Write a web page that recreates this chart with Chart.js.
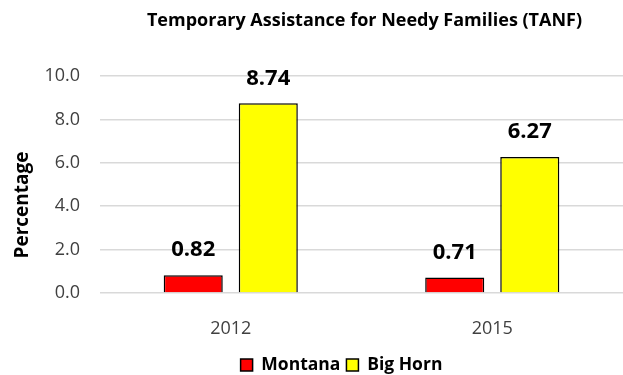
<!DOCTYPE html>
<html>
<head>
<meta charset="utf-8">
<script src="https://cdn.jsdelivr.net/npm/chart.js@4/dist/chart.umd.min.js"></script>
<style>
  html, body { margin: 0; padding: 0; background: #fff; }
  #wrap { width: 623px; height: 375px; }
</style>
</head>
<body>
<div id="wrap"><canvas id="tanf"></canvas></div>
<script>
const chartTitle = 'Temporary Assistance for Needy Families (TANF)';
const yTitle = 'Percentage';
const years = ['2012', '2015'];
const montana = [0.82, 0.71];
const bigHorn = [8.74, 6.27];

const FONT = "'Open Sans', sans-serif";
const PLOT_BOTTOM = 293;
const LEGEND_MID = 365;

// value labels over bars, chart title over the plot, rotated y title
const textPlugin = {
  id: 'textPlugin',
  afterLayout(chart) {
    const lg = chart.legend;
    const opts = lg.options.labels;
    // Excel puts the legend a bit right of the canvas centre
    lg.left += 60;
    const top = LEGEND_MID - opts.padding - opts.font.size / 2;
    const d = top - lg.top;
    lg.top += d;
    lg.bottom += d;
  },
  afterDatasetsDraw(chart) {
    const ctx = chart.ctx;
    const area = chart.chartArea;
    ctx.save();
    ctx.fillStyle = '#000';
    ctx.textAlign = 'center';
    ctx.textBaseline = 'middle';
    ctx.font = 'bold 22px ' + FONT;
    chart.data.datasets.forEach((ds, i) => {
      chart.getDatasetMeta(i).data.forEach((bar, j) => {
        ctx.fillText(ds.data[j].toFixed(2), bar.x, bar.y - 25);
      });
    });
    ctx.font = 'bold 18px ' + FONT;
    ctx.fillText(chartTitle, (area.left + area.right) / 2 + 3, 21);
    ctx.translate(23, 205);
    ctx.rotate(-Math.PI / 2);
    ctx.font = 'bold 19px ' + FONT;
    ctx.fillText(yTitle, 0, 0);
    ctx.restore();
  }
};

let ctx = document.getElementById('tanf').getContext('2d');
let myChart = new Chart(ctx, {
  type: 'bar',
  data: {
    labels: years,
    datasets: [
      {
        label: 'Montana',
        data: montana,
        backgroundColor: '#ff0000',
        borderColor: '#000000',
        borderWidth: 1.5,
      },
      {
        label: 'Big Horn',
        data: bigHorn,
        backgroundColor: '#ffff00',
        borderColor: '#000000',
        borderWidth: 1.5,
      },
    ],
  },
  options: {
    responsive: true,
    maintainAspectRatio: false,
    animation: false,
    categoryPercentage: 0.574,
    barPercentage: 0.787,
    layout: {
      padding: { top: 76, right: 0, bottom: 0, left: 0 },
    },
    scales: {
      x: {
        grid: { display: false },
        border: { display: false },
        ticks: {
          padding: 17,
          color: '#404040',
          font: { family: FONT, size: 18 },
        },
        afterFit(scale) {
          scale.height = scale.chart.height - PLOT_BOTTOM - scale.chart.legend.height;
        },
      },
      y: {
        min: 0,
        max: 10,
        border: { display: false },
        grid: { color: '#d9d9d9', lineWidth: 1.5, drawTicks: false },
        ticks: {
          stepSize: 2,
          padding: 20,
          color: '#404040',
          font: { family: FONT, size: 18 },
          callback: (v) => v.toFixed(1),
        },
        afterFit(scale) {
          scale.width = 100;
        },
      },
    },
    plugins: {
      title: { display: false },
      tooltip: { enabled: false },
      legend: {
        position: 'bottom',
        labels: {
          boxWidth: 12,
          boxHeight: 12,
          padding: 6,
          color: '#000',
          font: { family: FONT, size: 17.5, weight: 'bold' },
        },
      },
    },
  },
  plugins: [textPlugin],
});
</script>
</body>
</html>
